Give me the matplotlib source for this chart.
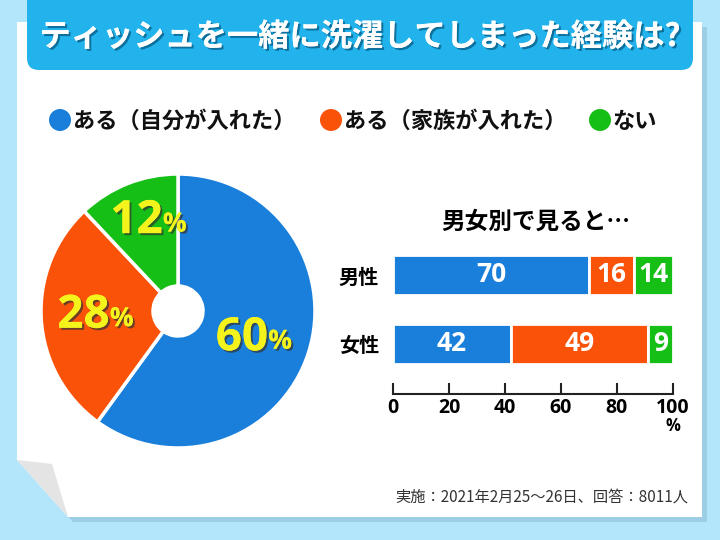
import matplotlib
matplotlib.use("Agg")
import matplotlib.pyplot as plt
import matplotlib.patheffects as pe
from matplotlib.patches import FancyBboxPatch, Rectangle, Polygon, Circle
import numpy as np

plt.rcParams['font.family'] = ['Noto Sans CJK JP', 'DejaVu Sans']

# ---- data ----
title = "ティッシュを一緒に洗濯してしまった経験は?"
categories = ["ある（自分が入れた）", "ある（家族が入れた）", "ない"]
overall = [60, 28, 12]
groups = ["男性", "女性"]
male = [70, 16, 14]
female = [42, 49, 9]
xticks = [0, 20, 40, 60, 80, 100]
subtitle = "男女別で見ると…"
footer = "実施：2021年2月25～26日、回答：8011人"

colors = ["#1a7fdb", "#fa5208", "#16bf16"]
yellow = "#f4f41c"
bg = "#b4e6fb"
bar_blue = "#22b3ec"

W, H = 720, 540
fig = plt.figure(figsize=(7.2, 5.4), dpi=100)
fig.patch.set_facecolor(bg)

# background / decoration axes in pixel coordinates
bgax = fig.add_axes([0, 0, 1, 1])
bgax.set_xlim(0, W)
bgax.set_ylim(H, 0)
bgax.axis('off')

# panel shadow
bgax.add_patch(Polygon([(22, 27), (707, 27), (707, 522), (73, 522), (22, 465)],
                       closed=True, facecolor="#8fbfd8", edgecolor='none', alpha=0.6, zorder=0))
# white panel with curled corner
bgax.add_patch(Polygon([(17, 22), (702, 22), (702, 517), (68, 517), (17, 460)],
                       closed=True, facecolor="white", edgecolor='none', zorder=1))
bgax.add_patch(Polygon([(17, 460), (52, 464), (68, 517)],
                       closed=True, facecolor="#e4e4e4", edgecolor='none', zorder=2))
# title bar
bgax.add_patch(FancyBboxPatch((27, -30), 666, 100, boxstyle="round,pad=0,rounding_size=12",
                              facecolor=bar_blue, edgecolor='none', zorder=3))
bgax.text(360, 37, title, color="white", fontsize=22.5, fontweight='bold',
          ha='center', va='center', zorder=4,
          path_effects=[pe.withSimplePatchShadow(offset=(1.5, -1.5), shadow_rgbFace='#0a5f88', alpha=0.8),
                        pe.Normal()])

# legend
leg_x = [60, 331, 600]
for i, (c, lab) in enumerate(zip(colors, categories)):
    bgax.add_patch(Circle((leg_x[i], 120), 11, facecolor=c, edgecolor='none', zorder=4))
    bgax.text(leg_x[i] + 13, 121, lab, fontsize=16, fontweight='bold', color='#111111',
              ha='left', va='center', zorder=4)

# footer
bgax.text(688, 497, footer, fontsize=11, color='#333333', ha='right', va='center', zorder=4)

# ---- pie ----
cx, cy, r = 178, 311, 137
pax = fig.add_axes([(cx - r) / W, (H - cy - r) / H, 2 * r / W, 2 * r / H])
wedges, _ = pax.pie(overall, colors=colors, startangle=90, counterclock=False,
                    radius=1.0, wedgeprops=dict(width=1 - 25 / 137, edgecolor='white', linewidth=2.5))
pax.set_xlim(-1, 1)
pax.set_ylim(-1, 1)
pax.set_aspect('auto')
pax.axis('off')

label_pos = [(0.60, -19), (0.59, 183), (0.69, 107)]
peff = [pe.withSimplePatchShadow(offset=(1.5, -1.5), shadow_rgbFace='#333333', alpha=0.7), pe.Normal()]
for v, (rad, ang) in zip(overall, label_pos):
    x = rad * np.cos(np.radians(ang))
    y = rad * np.sin(np.radians(ang))
    t = pax.text(x - 0.10, y, str(v), fontsize=33, fontweight='bold', color=yellow,
                 ha='center', va='center', family=['Open Sans', 'DejaVu Sans'], path_effects=peff)
    pax.annotate('%', xy=(1.0, 0.14), xycoords=t, fontsize=19, fontweight='bold', color=yellow,
                 ha='left', va='bottom', family=['Open Sans', 'DejaVu Sans'], path_effects=peff)

# ---- bars ----
x0, x1 = 393, 673
ytop, ybot = 240, 394
bax = fig.add_axes([x0 / W, (H - ybot) / H, (x1 - x0) / W, (ybot - ytop) / H])
ypos = np.arange(len(groups))
data = np.array([male, female])
left = np.zeros(len(groups))
for j in range(3):
    vals = data[:, j]
    bax.barh(ypos, vals, left=left, height=0.57, color=colors[j], edgecolor='white', linewidth=2)
    for yi, (l, v) in enumerate(zip(left, vals)):
        bax.text(l + v / 2, yi, str(v), color='white', fontsize=19, fontweight='bold',
                 ha='center', va='center', family=['Open Sans', 'DejaVu Sans'])
    left += vals
bax.set_xlim(0, 100)
bax.set_ylim(1.725, -0.507)
for s in ['top', 'right', 'left']:
    bax.spines[s].set_visible(False)
bax.spines['bottom'].set_linewidth(1.5)
bax.spines['bottom'].set_color('#222222')
bax.set_xticks(xticks)
bax.set_xticklabels([str(t) for t in xticks], fontsize=14, fontweight='bold',
                    family=['Open Sans', 'DejaVu Sans'])
bax.tick_params(axis='x', direction='in', length=8, width=1.5, color='#222222', pad=3)
bax.set_yticks(ypos)
bax.set_yticklabels(groups, fontsize=14.5, fontweight='bold')
bax.tick_params(axis='y', length=0, pad=10)
bax.patch.set_alpha(0)

bgax.text(673, 426, '%', fontsize=12, fontweight='bold', ha='center', va='center', zorder=4,
          family=['Open Sans', 'DejaVu Sans'])
bgax.text(536, 222, subtitle, fontsize=17, fontweight='bold', ha='center', va='center', zorder=4)

fig.savefig("out.png", dpi=100, facecolor=fig.get_facecolor())
